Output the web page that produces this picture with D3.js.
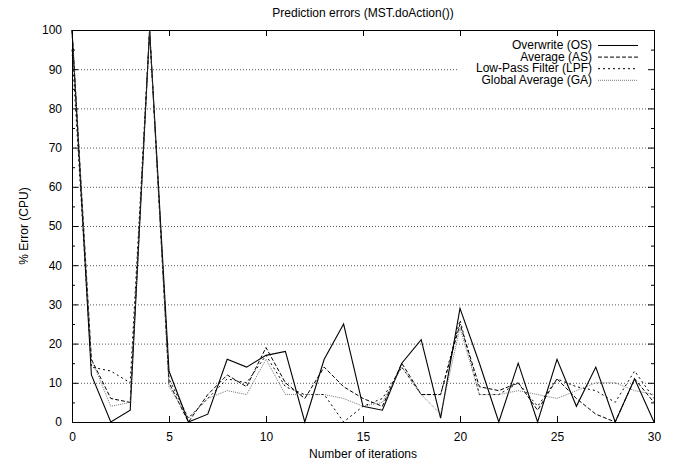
<!DOCTYPE html>
<html>
<head>
<meta charset="utf-8">
<script src="https://cdn.jsdelivr.net/npm/d3@7"></script>
<style>
  body { margin: 0; background: #fff; }
  svg text { font-family: "Liberation Sans", Arial, sans-serif; font-size: 12px; fill: #000; }
</style>
</head>
<body>
<svg id="chart" width="684" height="464"></svg>
<script>
// iterations 0..30
const iterations = d3.range(0, 31);

const overwriteOS = [100, 12, 0, 3, 100, 13, 0, 2, 16, 14, 17, 18, 0, 16, 25, 4, 3, 15, 21, 1, 29, 15, 0, 15, 0, 16, 4, 14, 0, 11, 0];
const averageAS   = [100, 16, 6, 5, 100, 10, 0, 7, 12, 9, 19, 10, 6, 14, 9, 6, 4, 15, 7, 7, 25, 9, 8, 10, 3, 11, 6, 2, 0, 11, 5];
const lowPassLPF  = [95, 14, 13, 10, 100, 11, 1, 6, 11, 10, 17, 9, 7, 7, 0, 4, 6, 14, 7, 7, 26, 7, 7, 10, 4, 11, 9, 8, 5, 13, 6];
const globalGA    = [100, 16, 4, 5, 100, 9, 1, 6, 8, 7, 16, 7, 7, 7, 6, 4, 5, 14, 7, 2, 24, 7, 7, 8, 7, 6, 8, 10, 10, 8, 7];

const seriesNames = ["Overwrite (OS)", "Average (AS)", "Low-Pass Filter (LPF)", "Global Average (GA)"];
const xTicks = [0, 5, 10, 15, 20, 25, 30];
const yTicks = [0, 10, 20, 30, 40, 50, 60, 70, 80, 90, 100];

const series = [
  { name: seriesNames[0], values: overwriteOS, dash: null, stroke: "#000", width: 1.1 },
  { name: seriesNames[1], values: averageAS, dash: "4,2", stroke: "#000", width: 1 },
  { name: seriesNames[2], values: lowPassLPF, dash: "2,3", stroke: "#000", width: 1 },
  { name: seriesNames[3], values: globalGA, dash: "1,1", stroke: "#555", width: 0.8 }
];

const svg = d3.select("#chart");
const width = +svg.attr("width");
const height = +svg.attr("height");
const margin = { top: 30, right: 30, bottom: 42, left: 72 };
const innerWidth = width - margin.left - margin.right;
const innerHeight = height - margin.top - margin.bottom;

const g = svg.append("g")
  .attr("transform", `translate(${margin.left},${margin.top})`);

const x = d3.scaleLinear().domain([0, 30]).range([0, innerWidth]);
const y = d3.scaleLinear().domain([0, 100]).range([innerHeight, 0]);

// legend box position (grid stops where the key starts)
const keyLeft = 458 - margin.left;

// grid lines (dotted)
g.selectAll("line.grid")
  .data(yTicks.filter(d => d > 0 && d < 100))
  .enter()
  .append("line")
  .attr("class", "grid")
  .attr("x1", 0)
  .attr("x2", d => d === 90 ? keyLeft : innerWidth)
  .attr("y1", d => y(d) + 0.5)
  .attr("y2", d => y(d) + 0.5)
  .attr("stroke", "#555")
  .attr("stroke-width", 1)
  .attr("stroke-dasharray", "1,2");

// axes with inward ticks on all four sides
const yMinor = d3.range(5, 100, 10);
const axisStyle = sel => {
  sel.select(".domain").remove();
  sel.selectAll("line").attr("stroke", "#000");
};
const noLabels = sel => {
  axisStyle(sel);
  sel.selectAll("text").remove();
};

g.append("g")
  .call(d3.axisLeft(y).tickValues(yTicks).tickSize(-6).tickPadding(10))
  .call(axisStyle);
g.append("g")
  .call(d3.axisLeft(y).tickValues(yMinor).tickSize(-3))
  .call(noLabels);
g.append("g")
  .attr("transform", `translate(${innerWidth},0)`)
  .call(d3.axisRight(y).tickValues(yTicks).tickSize(-6))
  .call(noLabels);
g.append("g")
  .attr("transform", `translate(${innerWidth},0)`)
  .call(d3.axisRight(y).tickValues(yMinor).tickSize(-3))
  .call(noLabels);
g.append("g")
  .attr("transform", `translate(0,${innerHeight})`)
  .call(d3.axisBottom(x).tickValues(xTicks).tickSize(-6).tickPadding(10))
  .call(axisStyle);
g.append("g")
  .call(d3.axisTop(x).tickValues(xTicks).tickSize(-6))
  .call(noLabels);

g.selectAll(".tick text").style("font-size", "12px");

// data lines
const line = d3.line()
  .x((d, i) => x(iterations[i]))
  .y(d => y(d));

g.selectAll("path.series")
  .data(series)
  .enter()
  .append("path")
  .attr("class", "series")
  .attr("d", d => line(d.values))
  .attr("fill", "none")
  .attr("stroke", d => d.stroke)
  .attr("stroke-width", d => d.width)
  .attr("stroke-dasharray", d => d.dash);

// border
g.append("rect")
  .attr("x", 0.5)
  .attr("y", 0.5)
  .attr("width", innerWidth)
  .attr("height", innerHeight)
  .attr("fill", "none")
  .attr("stroke", "#000")
  .attr("stroke-width", 1);

// legend
const legend = svg.append("g");
const rows = legend.selectAll("g")
  .data(series)
  .enter()
  .append("g")
  .attr("transform", (d, i) => `translate(0,${45 + i * 11.6})`);

rows.append("text")
  .attr("x", 592)
  .attr("y", 0)
  .attr("dy", "0.35em")
  .attr("text-anchor", "end")
  .text(d => d.name);

rows.append("line")
  .attr("x1", 598)
  .attr("x2", 638)
  .attr("y1", 0.5)
  .attr("y2", 0.5)
  .attr("stroke", d => d.stroke)
  .attr("stroke-width", d => d.width)
  .attr("stroke-dasharray", d => d.dash);

// titles
svg.append("text")
  .attr("x", margin.left + innerWidth / 2)
  .attr("y", 17)
  .attr("text-anchor", "middle")
  .text("Prediction errors (MST.doAction())");

svg.append("text")
  .attr("x", margin.left + innerWidth / 2)
  .attr("y", 458)
  .attr("text-anchor", "middle")
  .text("Number of iterations");

svg.append("text")
  .attr("transform", `translate(28,${margin.top + innerHeight / 2}) rotate(-90)`)
  .attr("text-anchor", "middle")
  .text("% Error (CPU)");
</script>
</body>
</html>
